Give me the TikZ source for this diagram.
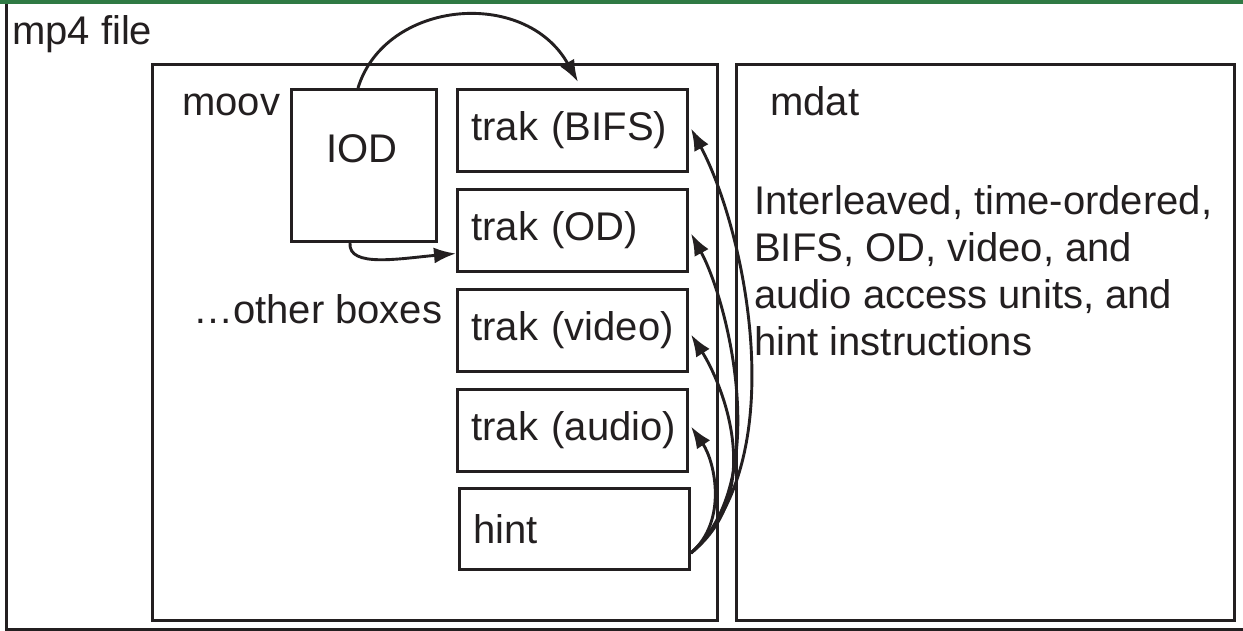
\documentclass[tikz,border=0pt]{standalone}
\usepackage{fontspec}
\setmainfont{Liberation Sans}
\usetikzlibrary{arrows.meta}
\definecolor{ink}{HTML}{231F20}
\definecolor{bar}{RGB}{47,122,68}
\begin{document}
\begin{tikzpicture}[x=1pt,y=-1pt,
  every node/.style={font=\fontsize{40}{47}\selectfont, text=ink},
  frame/.style={draw=ink, line width=3pt, inner sep=0pt, anchor=north west},
  trakbox/.style={frame, minimum height=82pt, text width=202pt, inner xsep=14pt, align=left},
  conn/.style={draw=ink, line width=2.9pt, -{Latex[length=22pt,width=16pt]}},
  txt/.style={anchor=base west, inner sep=0pt}]
\useasboundingbox (0,0) rectangle (1243,630);
\clip (0,0) rectangle (1243,630);
\fill[white] (0,0) rectangle (1243,630);
% containers
\node[frame, line width=2.8pt, minimum width=1300pt, minimum height=630pt] (file) at (5,-2) {};
\node[frame, minimum width=565pt, minimum height=556pt] (moov) at (151,63) {};
\node[frame, minimum width=498pt, minimum height=556pt] (mdat) at (735,63) {};
\node[frame, minimum width=145pt, minimum height=152pt] (iod) at (290,88) {};
% trak boxes
\node[trakbox] (bifs) at (456,88) {\mbox{trak (BIFS)}};
\node[trakbox] (od) at (456,188) {\mbox{trak (OD)}};
\node[trakbox] (video) at (456,288) {\mbox{trak (video)}};
\node[trakbox] (audio) at (456,388) {\mbox{trak (audio)}};
\node[trakbox, minimum height=81pt] (hint) at (458,487) {\mbox{hint}};
% labels
\node[txt] (lfile) at (12,44) {mp4 file};
\node[txt] (lmoov) at (182,115) {moov};
\node[anchor=base, inner sep=0pt] (liod) at (362,162) {IOD};
\node[txt] (lother) at (193,323) {…other boxes};
\node[txt] (lmdat) at (770,115) {mdat};
\node[anchor=north west, inner sep=0pt, align=left] (desc) at (754,185)
  {Interleaved, time-ordered,\\BIFS, OD, video, and\\audio access units, and\\hint instructions};
% connectors
\draw[conn] ([xshift=68pt]iod.north west) .. controls +(27,-88) and +(-53,-95) .. ([xshift=122pt,yshift=6pt]bifs.north west);
\draw[conn] ([xshift=60pt]iod.south west) .. controls +(-2,25) and +(-56,5) .. ([yshift=-23pt]od.west);
\coordinate (hs) at ([yshift=-24pt]hint.east);
\draw[conn] (hs) .. controls +(102,-92) and +(55,103) .. ([xshift=2pt,yshift=2pt]bifs.east);
\draw[conn] (hs) .. controls +(82,-72) and +(37,68) .. ([xshift=2pt,yshift=-3pt]od.east);
\draw[conn] (hs) .. controls +(77,-62) and +(30,47) .. ([xshift=2pt,yshift=-4pt]video.east);
\draw[conn] (hs) .. controls +(37,-32) and +(24,35) .. ([xshift=2pt,yshift=4pt]audio.east);
% top bar
\fill[bar] (0,0) rectangle (1243,3.5);
\end{tikzpicture}
\end{document}
